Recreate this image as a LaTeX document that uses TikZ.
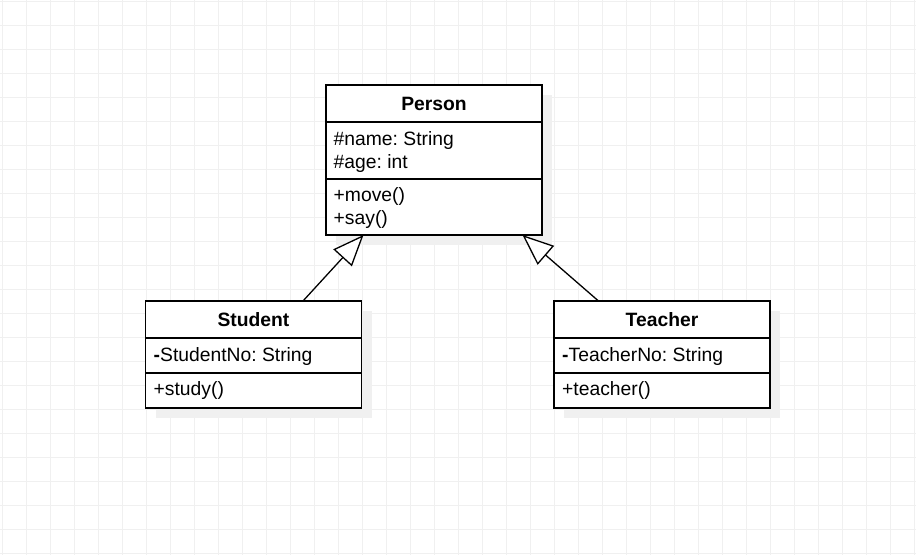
\documentclass[tikz,border=0pt]{standalone}
\usepackage{fontspec}
\setmainfont{Liberation Sans}
\usetikzlibrary{arrows.meta,calc,shadows}
\frenchspacing
\begin{document}
\begin{tikzpicture}[x=1pt,y=-1pt,
  gridline/.style={draw=black!6, line width=1pt},
  classbox/.style={draw=black, line width=1.3pt, fill=white, inner sep=0pt, outer sep=0pt,
    anchor=north west, minimum width=216pt,
    general shadow={shadow xshift=10pt, shadow yshift=-10pt, fill=black!6}},
  divider/.style={draw=black, line width=1.3pt},
  title/.style={font=\fontsize{19.3}{23}\selectfont\bfseries, inner sep=0pt, anchor=base},
  member/.style={font=\fontsize{19.3}{23}\selectfont, inner sep=0pt, anchor=base west},
  inherit/.style={draw=black, line width=1.3pt, -{Triangle[length=31pt, width=25pt, fill=white]}}
]
\useasboundingbox (0,0) rectangle (916,555);
\fill[white] (0,0) rectangle (916,555);
\foreach \k in {0,...,38} { \draw[gridline] ({2.5+24*\k},0) -- ({2.5+24*\k},555); }
\foreach \k in {0,...,23} { \draw[gridline] (0,{1+24*\k}) -- (916,{1+24*\k}); }

% Person
\node[classbox, minimum height=150pt] (person) at (326,85) {};
\draw[divider] ($(person.north west)+(0,37)$) -- ($(person.north east)+(0,37)$);
\draw[divider] ($(person.north west)+(0,94)$) -- ($(person.north east)+(0,94)$);
\node[title] (ptitle) at ($(person.north)+(0,25)$) {Person};
\node[member] (pname) at ($(person.north west)+(7.5,60)$) {\#name: String};
\node[member] (page) at ($(person.north west)+(7.5,83)$) {\#age: int};
\node[member] (pmove) at ($(person.north west)+(7.5,116)$) {+move()};
\node[member] (psay) at ($(person.north west)+(7.5,139)$) {+say()};

% Student
\node[classbox, minimum height=107pt] (student) at (145.5,301) {};
\draw[divider] ($(student.north west)+(0,37)$) -- ($(student.north east)+(0,37)$);
\draw[divider] ($(student.north west)+(0,72)$) -- ($(student.north east)+(0,72)$);
\node[title] (stitle) at ($(student.north)+(0,25)$) {Student};
\node[member] (sno) at ($(student.north west)+(8,60)$) {{\bfseries -}StudentNo: String};
\node[member] (sstudy) at ($(student.north west)+(8,94)$) {+study()};

% Teacher
\node[classbox, minimum height=107pt] (teacher) at (554,301) {};
\draw[divider] ($(teacher.north west)+(0,37)$) -- ($(teacher.north east)+(0,37)$);
\draw[divider] ($(teacher.north west)+(0,72)$) -- ($(teacher.north east)+(0,72)$);
\node[title] (ttitle) at ($(teacher.north)+(0,25)$) {Teacher};
\node[member] (tno) at ($(teacher.north west)+(8,60)$) {{\bfseries -}TeacherNo: String};
\node[member] (tteach) at ($(teacher.north west)+(8,94)$) {+teacher()};

% inheritance connectors
\coordinate (sfrom) at ($(student.north west)+(157.5,0)$);
\coordinate (sto) at ($(person.south west)+(37.5,0)$);
\coordinate (tfrom) at ($(teacher.north west)+(44.5,0)$);
\coordinate (tto) at ($(person.south west)+(196.5,0)$);
\draw[inherit] (sfrom) -- (sto);
\draw[inherit] (tfrom) -- (tto);
\end{tikzpicture}
\end{document}
